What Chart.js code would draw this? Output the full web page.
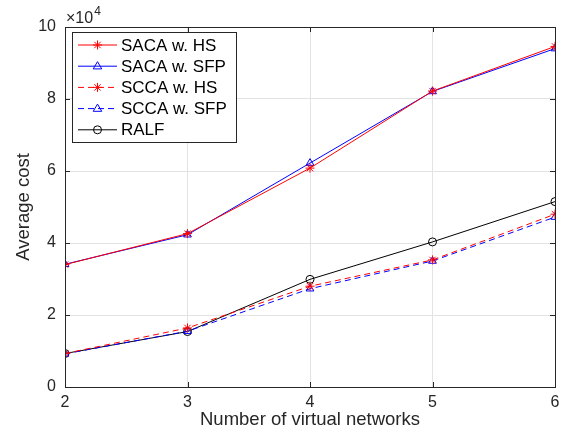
<!DOCTYPE html>
<html>
<head>
<meta charset="utf-8">
<script src="https://cdn.jsdelivr.net/npm/chart.js@4.4.1/dist/chart.umd.min.js"></script>
<style>
  html, body { margin: 0; padding: 0; background: #fff; }
  #wrap { width: 567px; height: 437px; }
</style>
</head>
<body>
<div id="wrap"><canvas id="chart" width="567" height="437"></canvas></div>
<script>
// values in units of 1e4
var networks = [2, 3, 4, 5, 6];
var sacaHS = [3.40, 4.26, 6.08, 8.22, 9.46];
var sacaSFP = [3.41, 4.23, 6.22, 8.21, 9.40];
var sccaHS = [0.93, 1.64, 2.80, 3.53, 4.80];
var sccaSFP = [0.92, 1.55, 2.73, 3.50, 4.72];
var ralf = [0.93, 1.54, 2.99, 4.03, 5.15];
var yTicks = [0, 2, 4, 6, 8, 10];
var xTicks = [2, 3, 4, 5, 6];

var FONT = '"Liberation Sans", Arial, sans-serif';
var AXIS_COLOR = '#262626';

function toPoints(values) {
    let pts = [];
    for (let i = 0; i < networks.length; i++) {
        pts.push({ x: networks[i], y: values[i] });
    }
    return pts;
}

function makeSet(label, values, color, marker, dashed) {
    return {
        label: label,
        data: toPoints(values),
        borderColor: color,
        borderWidth: 1,
        borderDash: dashed ? [6, 4] : [],
        pointStyle: marker,
        pointRadius: marker === 'circle' ? 4 : 4.5,
        pointBorderColor: color,
        pointBackgroundColor: 'rgba(0,0,0,0)',
        pointBorderWidth: 1,
        fill: false,
        tension: 0
    };
}

var datasets = [
    makeSet('SACA w. HS', sacaHS, '#ff0000', 'star', false),
    makeSet('SACA w. SFP', sacaSFP, '#0000ff', 'triangle', false),
    makeSet('SCCA w. HS', sccaHS, '#ff0000', 'star', true),
    makeSet('SCCA w. SFP', sccaSFP, '#0000ff', 'triangle', true),
    makeSet('RALF', ralf, '#000000', 'circle', false)
];

function drawMarker(ctx, style, x, y, r) {
    ctx.beginPath();
    if (style === 'circle') {
        ctx.arc(x, y, r, 0, Math.PI * 2);
    } else if (style === 'triangle') {
        ctx.moveTo(x, y - r);
        ctx.lineTo(x + r * 0.95, y + r * 0.6);
        ctx.lineTo(x - r * 0.95, y + r * 0.6);
        ctx.closePath();
    } else if (style === 'star') {
        for (let a = 0; a < 4; a++) {
            let ang = a * Math.PI / 4;
            ctx.moveTo(x - Math.cos(ang) * r, y - Math.sin(ang) * r);
            ctx.lineTo(x + Math.cos(ang) * r, y + Math.sin(ang) * r);
        }
    }
    ctx.stroke();
}

// box, inward ticks, exponent label and MATLAB-like legend
var framePlugin = {
    id: 'frame',
    afterDraw(chart) {
        let ctx = chart.ctx;
        let area = chart.chartArea;
        let xs = chart.scales.x;
        let ys = chart.scales.y;
        ctx.save();
        ctx.strokeStyle = AXIS_COLOR;
        ctx.lineWidth = 1;
        ctx.setLineDash([]);
        ctx.strokeRect(Math.round(area.left) + 0.5, Math.round(area.top) + 0.5,
            Math.round(area.right - area.left), Math.round(area.bottom - area.top));

        ctx.beginPath();
        for (let i = 0; i < xTicks.length; i++) {
            let px = Math.round(xs.getPixelForValue(xTicks[i])) + 0.5;
            ctx.moveTo(px, area.bottom);
            ctx.lineTo(px, area.bottom - 5);
            ctx.moveTo(px, area.top);
            ctx.lineTo(px, area.top + 5);
        }
        for (let i = 0; i < yTicks.length; i++) {
            let py = Math.round(ys.getPixelForValue(yTicks[i])) + 0.5;
            ctx.moveTo(area.left, py);
            ctx.lineTo(area.left + 5, py);
            ctx.moveTo(area.right, py);
            ctx.lineTo(area.right - 5, py);
        }
        ctx.stroke();

        // x10^4 exponent
        ctx.fillStyle = AXIS_COLOR;
        ctx.textBaseline = 'alphabetic';
        ctx.textAlign = 'left';
        ctx.font = '16px ' + FONT;
        ctx.fillText('\u00d710', area.left + 1, area.top - 4);
        let w = ctx.measureText('\u00d710').width;
        ctx.font = '12px ' + FONT;
        ctx.fillText('4', area.left + 1 + w + 1, area.top - 12);

        // legend
        let lx = 72, ly = 32, lw = 164, lh = 110;
        ctx.fillStyle = '#ffffff';
        ctx.fillRect(lx, ly, lw, lh);
        ctx.strokeStyle = AXIS_COLOR;
        ctx.strokeRect(lx + 0.5, ly + 0.5, lw, lh);
        ctx.font = '17px ' + FONT;
        ctx.textBaseline = 'middle';
        for (let i = 0; i < datasets.length; i++) {
            let ds = datasets[i];
            let cy = ly + 13 + i * 21.2;
            ctx.strokeStyle = ds.borderColor;
            ctx.lineWidth = 1;
            ctx.setLineDash(ds.borderDash);
            ctx.beginPath();
            ctx.moveTo(78, cy);
            ctx.lineTo(117, cy);
            ctx.stroke();
            ctx.setLineDash([]);
            drawMarker(ctx, ds.pointStyle, 97.5, cy, ds.pointRadius);
            ctx.fillStyle = '#000000';
            ctx.fillText(ds.label, 121, cy + 1);
        }
        ctx.restore();
    }
};

var config = {
    type: 'line',
    data: { datasets: datasets },
    options: {
        responsive: false,
        animation: false,
        layout: { padding: { left: 0, right: 12, top: 27, bottom: 0 } },
        plugins: {
            legend: { display: false },
            tooltip: { enabled: false }
        },
        scales: {
            x: {
                type: 'linear',
                min: 2,
                max: 6,
                afterFit(scale) { scale.height = 50; },
                afterBuildTicks(scale) { scale.ticks = xTicks.map(v => ({ value: v })); },
                grid: { color: '#e3e3e3', drawTicks: false },
                border: { display: false },
                ticks: {
                    color: AXIS_COLOR,
                    padding: 6,
                    font: { family: FONT, size: 16 }
                },
                title: {
                    display: true,
                    text: 'Number of virtual networks',
                    color: AXIS_COLOR,
                    padding: { top: 0, bottom: 6 },
                    font: { family: FONT, size: 18.5 }
                }
            },
            y: {
                min: 0,
                max: 10,
                afterFit(scale) { scale.width = 65; },
                afterBuildTicks(scale) { scale.ticks = yTicks.map(v => ({ value: v })); },
                grid: { color: '#e3e3e3', drawTicks: false },
                border: { display: false },
                ticks: {
                    color: AXIS_COLOR,
                    padding: 9,
                    font: { family: FONT, size: 16 }
                },
                title: {
                    display: true,
                    text: 'Average cost',
                    color: AXIS_COLOR,
                    padding: { top: 13, bottom: 4 },
                    font: { family: FONT, size: 18.5 }
                }
            }
        }
    },
    plugins: [framePlugin]
};

var chart = new Chart(document.getElementById('chart'), config);
</script>
</body>
</html>
